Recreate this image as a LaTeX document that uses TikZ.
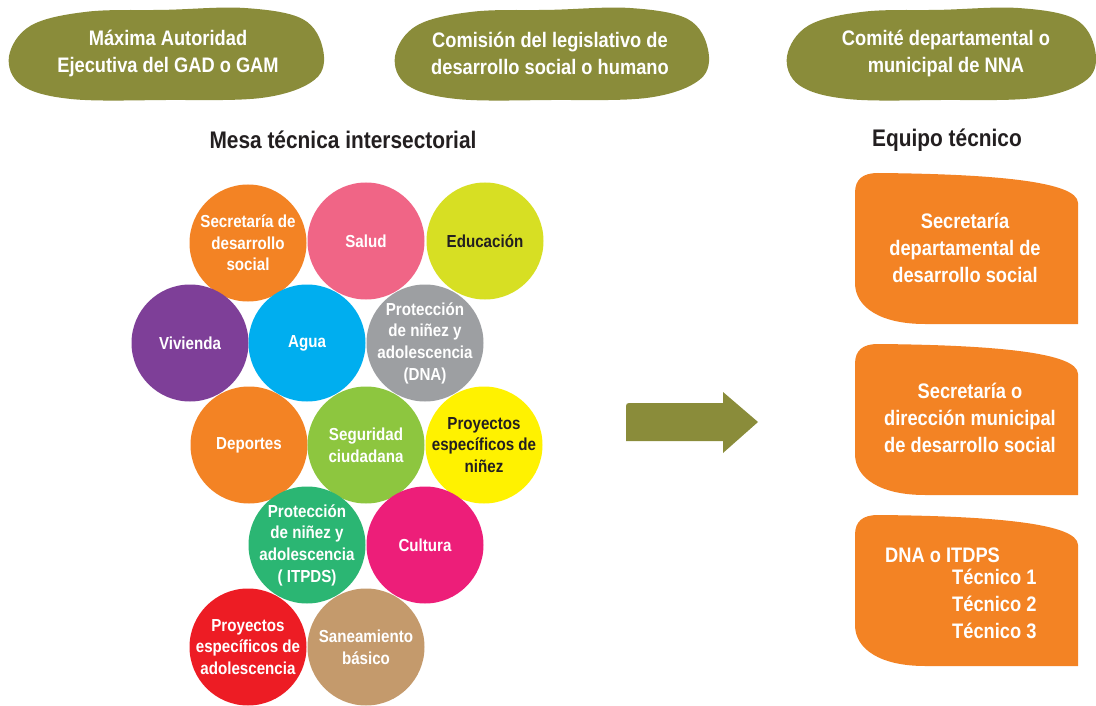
\documentclass[tikz,border=0pt]{standalone}
\usepackage{fontspec}
\newfontfamily\cf{Liberation Sans}[FakeStretch=0.87]
\definecolor{olivec}{RGB}{138,140,58}
\definecolor{orangec}{RGB}{243,131,36}
\definecolor{pinkc}{RGB}{240,101,134}
\definecolor{limec}{RGB}{215,223,35}
\definecolor{purplec}{RGB}{126,63,152}
\definecolor{bluec}{RGB}{0,174,239}
\definecolor{grayc}{RGB}{157,159,162}
\definecolor{greenc}{RGB}{141,198,63}
\definecolor{yellowc}{RGB}{255,242,0}
\definecolor{tealc}{RGB}{43,182,115}
\definecolor{magentac}{RGB}{237,30,121}
\definecolor{redc}{RGB}{237,28,36}
\definecolor{tanc}{RGB}{196,154,108}
\definecolor{darkc}{RGB}{35,31,32}
\newcommand\myblob[4]{% cx cy a b
  \fill[olivec, shift={(#1,#2)}, xscale=#3, yscale=#4]
    plot[smooth cycle, tension=0.6] coordinates {(-1,0.05) (-0.86,-0.62) (-0.5,-0.92) (0,-0.96) (0.5,-1.0) (0.87,-0.76) (1.0,-0.1) (0.95,0.55) (0.62,0.95) (0,1.0) (-0.6,0.98) (-0.92,0.68)};}
\newcommand\myobox[1]{% top y
  \fill[orangec] (855,#1+20) .. controls (855,#1+6) and (863,#1) .. (878,#1)
    .. controls (990,#1+1) and (1078,#1+8) .. (1078,#1+30) -- (1078,#1+151)
    -- (925,#1+151) .. controls (880,#1+151) and (855,#1+134) .. (855,#1+110) -- cycle;}
% circle with text: name, x, y, fill colour, text colour, text
\newcommand\mycirc[6]{%
  \node[circ, fill=#4] (#1) at (#2,#3) {};
  \node[ctxt, text=#5] (#1-t) at (#1) {#6};}
\begin{document}
\begin{tikzpicture}[x=1pt,y=-1pt,
  toptxt/.style={text=white, align=center, font=\cf\bfseries\fontsize{21}{27}\selectfont},
  head/.style={text=darkc, font=\cf\bfseries\fontsize{24}{28}\selectfont},
  circ/.style={circle, minimum size=117pt, inner sep=0pt},
  ctxt/.style={align=center, inner sep=0pt, font=\cf\bfseries\fontsize{17.4}{21.7}\selectfont},
  otxt/.style={text=white, align=center, font=\cf\bfseries\fontsize{21}{26.7}\selectfont}]
\path[use as bounding box] (0,0) rectangle (1096,706);
% top blobs
\myblob{166}{54}{157}{46}
\myblob{551.5}{54}{156.5}{46}
\myblob{941}{54}{154}{46}
\node[toptxt] (t1) at (168,53) {Máxima Autoridad\\Ejecutiva del GAD o GAM};
\node[toptxt] (t2) at (550,53) {Comisión del legislativo de\\desarrollo social o humano};
\node[toptxt] (t3) at (946,53) {Comité departamental o\\municipal de NNA};
% headings
\node[head] (h1) at (343,140) {Mesa técnica intersectorial};
\node[head] (h2) at (947,140) {Equipo técnico};
% circles
\mycirc{sec}{248}{243}{orangec}{white}{Secretaría de\\desarrollo\\social}
\mycirc{salud}{366}{241}{pinkc}{white}{Salud}
\mycirc{edu}{485}{241}{limec}{darkc}{Educación}
\mycirc{viv}{190}{343}{purplec}{white}{Vivienda}
\mycirc{agua}{307}{343}{bluec}{white}{Agua}
\mycirc{dna}{425}{343}{grayc}{white}{Protección\\de niñez y\\adolescencia\\(DNA)}
\mycirc{dep}{249}{445}{orangec}{white}{Deportes}
\mycirc{seg}{366}{445}{greenc}{white}{Seguridad\\ciudadana}
\mycirc{pn}{484}{445}{yellowc}{darkc}{Proyectos\\específicos de\\niñez}
\mycirc{itpds}{307}{545}{tealc}{white}{Protección\\de niñez y\\adolescencia\\( ITPDS)}
\mycirc{cult}{425}{545}{magentac}{white}{Cultura}
\mycirc{pa}{248}{647}{redc}{white}{Proyectos\\específicos de\\adolescencia}
\mycirc{san}{366}{647}{tanc}{white}{Saneamiento\\básico}
% arrow
\fill[olivec] (626,406) .. controls (626,404) and (627,403) .. (629,403) -- (723,403) -- (723,392) -- (758,422) -- (723,453) -- (723,441) -- (626,441) -- cycle;
% orange boxes
\myobox{173}
\myobox{344}
\myobox{515}
\node[otxt] (o1) at (965,248) {Secretaría\\departamental de\\desarrollo social};
\node[otxt] (o2) at (970,418) {Secretaría o\\dirección municipal\\de desarrollo social};
\node[otxt, anchor=base west, inner sep=0pt] (o3) at (885,562) {DNA o ITDPS};
\node[otxt, anchor=north west, align=left, inner sep=0pt] (o4) at (952,569) {Técnico 1\\Técnico 2\\Técnico 3};
\end{tikzpicture}
\end{document}
